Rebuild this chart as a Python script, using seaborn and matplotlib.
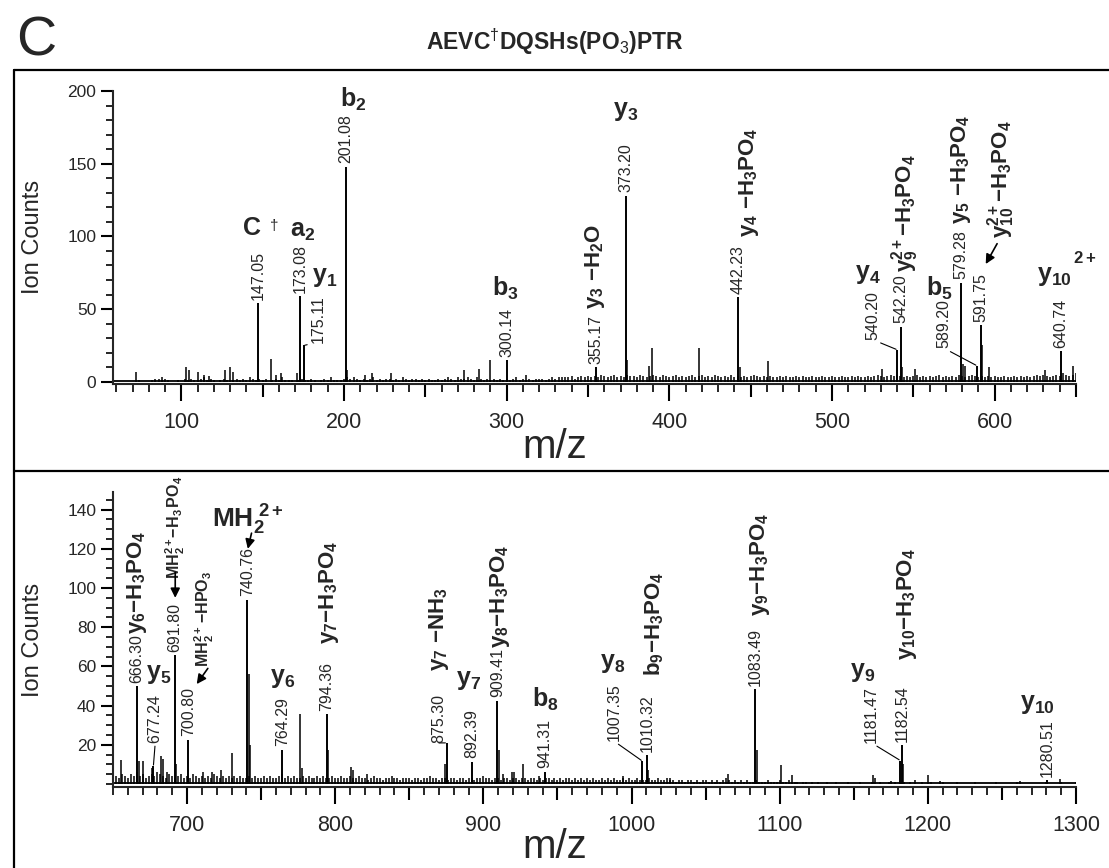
import matplotlib
matplotlib.use('Agg')
import matplotlib.pyplot as plt
import matplotlib.ticker as mticker
from matplotlib.lines import Line2D
import seaborn as sns
import numpy as np

# ---------------- data: top panel (m/z 58-650) ----------------
top_label_mz = [147.05, 173.08, 175.11, 201.08, 300.14, 355.17, 373.20, 442.23,
                540.20, 542.20, 579.28, 589.20, 591.75, 640.74]
top_label_int = [54, 59, 25, 148, 15, 10, 128, 58, 22, 38, 68, 11, 39, 21]

top_minor_mz = [72, 84, 88, 103, 105, 110, 114, 117, 127, 130, 132, 155, 158, 161,
                171, 202, 213, 217, 229, 274, 283, 290, 312, 374.2, 387.5, 389.5,
                418.5, 443.2, 460.5, 531, 543.2, 551, 580.3, 581.5, 592.5, 596.5,
                631, 648]
top_minor_int = [7, 2, 3, 10, 8, 7, 5, 4, 8, 10, 7, 16, 5, 6, 6, 8, 5, 6, 6, 8, 9,
                 15, 5, 15, 11, 23, 23, 10, 14, 9, 10, 9, 12, 11, 25, 10, 8, 11]

# baseline grass, one value every 2 m/z from 58
top_noise_start = 58
top_noise = [
    0, 0, 0, 0, 0, 0, 0, 0, 1, 0, 0, 0, 1, 1, 2, 1, 2, 1, 0, 0,
    1, 0, 2, 1, 2, 1, 1, 2, 3, 1, 2, 1, 0, 1, 2, 1, 0, 1, 2, 1,
    2, 1, 3, 2, 1, 2, 1, 2, 0, 1, 2, 1, 3, 1, 1, 1, 0, 1, 2, 1,
    1, 2, 1, 0, 1, 2, 1, 3, 1, 1, 1, 2, 3, 2, 3, 2, 1, 2, 1, 2,
    3, 1, 2, 1, 2, 2, 1, 2, 1, 3, 2, 1, 2, 2, 1, 2, 1, 2, 1, 1,
    2, 1, 2, 3, 2, 1, 3, 2, 2, 3, 2, 1, 3, 2, 1, 2, 1, 2, 1, 2,
    1, 2, 1, 2, 3, 1, 2, 1, 2, 1, 2, 2, 2, 1, 2, 3, 2, 3, 3, 3,
    3, 4, 2, 3, 4, 3, 4, 3, 4, 3, 5, 4, 3, 4, 5, 3, 4, 3, 5, 4,
    4, 3, 5, 4, 3, 4, 5, 4, 3, 5, 4, 3, 4, 5, 3, 4, 3, 4, 5, 3,
    4, 5, 3, 4, 3, 5, 4, 3, 4, 3, 5, 3, 4, 3, 4, 3, 4, 5, 4, 3,
    4, 3, 4, 3, 3, 4, 3, 4, 3, 3, 4, 3, 4, 3, 3, 4, 3, 3, 4, 3,
    3, 4, 3, 3, 4, 3, 3, 4, 3, 4, 3, 3, 4, 3, 4, 5, 4, 3, 4, 5,
    4, 5, 4, 3, 4, 3, 4, 5, 3, 4, 3, 4, 3, 4, 5, 3, 4, 3, 4, 3,
    5, 4, 3, 4, 5, 4, 3, 4, 3, 4, 3, 4, 3, 3, 4, 3, 3, 4, 3, 4,
    3, 4, 3, 4, 5, 4, 5, 4, 3, 4, 5, 4, 6, 5, 4, 5, 6]

# ---------------- data: bottom panel (m/z 650-1300) ----------------
bot_label_mz = [666.30, 677.24, 691.80, 700.80, 740.76, 764.29, 794.36, 875.30,
                892.39, 909.41, 941.31, 1007.35, 1010.32, 1083.49, 1181.47,
                1182.54, 1280.51]
bot_label_int = [50, 9, 65.6, 22.6, 94, 17.4, 35.5, 21, 11.5, 42.4, 6.4, 11.7,
                 14.6, 48.5, 12, 19.8, 2]

bot_minor_mz = [655.5, 667.5, 670, 676, 682.5, 683.5, 686.5, 692.5, 711, 717, 723,
                730.5, 741.5, 742.5, 776.5, 777.5, 795.4, 810.8, 812, 821.7, 874.3,
                910.4, 913, 919, 921, 926.5, 937.3, 994, 1011.3, 1025.7, 1065.4,
                1084.4, 1101.2, 1108.3, 1163, 1164.5, 1175, 1183.4, 1191, 1200,
                1208, 1262, 1289]
bot_minor_int = [12.5, 12, 12, 8, 14.5, 13, 6, 10, 6, 6, 7, 16, 56, 20, 35.7, 8,
                 17.6, 8.6, 7, 5, 10, 17.6, 5, 6, 6, 10, 4, 4, 7, 3, 5, 17.5, 9.5,
                 4.5, 4.6, 3, 1.5, 10, 2, 4.5, 1.5, 1.5, 2.5]

bot_noise_start = 650
bot_noise = [
    3, 4, 3, 5, 4, 3, 5, 4, 6, 4, 5, 3, 4, 5, 4, 6, 5, 4, 3, 5,
    4, 3, 4, 5, 3, 4, 3, 5, 4, 3, 4, 3, 4, 3, 5, 4, 3, 4, 3, 4,
    3, 4, 3, 4, 3, 3, 4, 3, 4, 3, 3, 4, 3, 4, 3, 3, 4, 5, 3, 4,
    3, 4, 3, 3, 4, 3, 4, 3, 3, 4, 3, 4, 3, 3, 4, 3, 3, 4, 3, 3,
    4, 3, 3, 4, 3, 3, 2, 3, 4, 3, 3, 2, 3, 3, 4, 3, 3, 2, 3, 3,
    3, 2, 3, 3, 2, 3, 3, 4, 3, 3, 2, 3, 3, 2, 3, 3, 2, 3, 3, 2,
    3, 3, 2, 3, 3, 4, 3, 3, 2, 3, 3, 2, 3, 3, 2, 3, 3, 2, 3, 3,
    2, 3, 3, 2, 3, 2, 3, 3, 2, 3, 2, 3, 2, 3, 3, 2, 3, 2, 3, 2,
    3, 2, 3, 2, 2, 3, 2, 3, 2, 3, 2, 2, 3, 2, 3, 2, 2, 3, 2, 2,
    2, 3, 2, 2, 3, 2, 2, 3, 2, 2, 1, 2, 2, 1, 2, 2, 1, 2, 1, 2,
    2, 1, 2, 1, 2, 1, 2, 3, 2, 1, 2, 1, 2, 1, 2, 1, 1, 2, 1, 1,
    1, 2, 1, 1, 1, 2, 1, 1, 2, 1, 1, 1, 0, 1, 1, 0, 1, 0, 1, 0,
    0, 1, 0, 0, 1, 0, 0, 0, 1, 0, 0, 0, 1, 0, 0, 0, 1, 0, 0, 1,
    0, 0, 1, 0, 1, 0, 0, 1, 0, 1, 0, 0, 0, 1, 0, 0, 1, 0, 0, 0,
    1, 0, 0, 0, 0, 1, 0, 0, 0, 0, 0, 1, 0, 0, 0, 0, 0, 0, 1, 0,
    0, 0, 0, 0, 0, 1, 0, 0, 0, 0, 0, 0, 0, 0, 0, 1, 0, 0, 0, 0,
    1, 0, 0, 0, 0, 1]

# ion labels: text, x, y (data), rotation, font size
top_ions = [
    (r'$\mathbf{C}$', 143, 106, 0, 18),
    (r'$\dagger$', 157, 108, 0, 11),
    (r'$\mathbf{a_2}$', 174.5, 104, 0, 18),
    (r'$\mathbf{y_1}$', 188, 72, 0, 18),
    (r'$\mathbf{b_2}$', 205.5, 194, 0, 18),
    (r'$\mathbf{b_3}$', 299, 64, 0, 18),
    (r'$\mathbf{y_3\ {-}H_2O}$', 354, 79, 90, 16),
    (r'$\mathbf{y_3}$', 373, 186, 0, 18),
    (r'$\mathbf{y_4\ {-}H_3PO_4}$', 449, 137, 90, 16),
    (r'$\mathbf{y_4}$', 522, 74, 0, 18),
    (r'$\mathbf{y_9^{2+}{-}H_3PO_4}$', 545, 116, 90, 16),
    (r'$\mathbf{b_5}$', 566, 64, 0, 18),
    (r'$\mathbf{y_5\ {-}H_3PO_4}$', 579, 146, 90, 16),
    (r'$\mathbf{y_{10}^{2+}{-}H_3PO_4}$', 604, 139, 90, 16),
    (r'$\mathbf{y_{10}}$', 637, 73, 0, 18),
    (r'$\mathbf{2+}$', 655, 85, 0, 12),
]
bot_ions = [
    (r'$\mathbf{y_6{-}H_3PO_4}$', 666.5, 103, 90, 16),
    (r'$\mathbf{y_5}$', 681, 56, 0, 18),
    (r'$\mathbf{MH_2^{2+}{-}H_3\,PO_4}$', 692, 131, 90, 11.5),
    (r'$\mathbf{MH_2^{2+}\,{-}HPO_3}$', 712, 84, 90, 11.5),
    (r'$\mathbf{MH_2^{\ 2+}}$', 741, 135, 0, 19),
    (r'$\mathbf{y_6}$', 764.5, 54, 0, 18),
    (r'$\mathbf{y_7{-}H_3PO_4}$', 796, 98, 90, 16),
    (r'$\mathbf{y_7\ {-}NH_3}$', 870, 79, 90, 16),
    (r'$\mathbf{y_7}$', 890, 53, 0, 18),
    (r'$\mathbf{y_8{-}H_3PO_4}$', 911, 96, 90, 16),
    (r'$\mathbf{b_8}$', 942, 43, 0, 18),
    (r'$\mathbf{y_8}$', 987, 62, 0, 18),
    (r'$\mathbf{b_9{-}H_3PO_4}$', 1015, 82, 90, 16),
    (r'$\mathbf{y_9{-}H_3PO_4}$', 1087, 112, 90, 16),
    (r'$\mathbf{y_9}$', 1156, 57, 0, 18),
    (r'$\mathbf{y_{10}{-}H_3PO_4}$', 1186, 92, 90, 16),
    (r'$\mathbf{y_{10}}$', 1274, 41, 0, 18),
]

# number labels moved away from their peak (text bottom position, data coords)
top_leaders = {175.11: (184, 27), 540.20: (525, 29), 589.20: (569, 23)}
bot_leaders = {677.24: (678.5, 21), 875.30: (870, 21), 1007.35: (988, 22),
               1181.47: (1162, 21)}

# arrows: (from, to) in data coords
top_arrows = [((601.5, 95), (594.5, 81))]
bot_arrows = [((692, 108), (692, 95)), ((714, 59), (706.5, 51)),
              ((743.5, 128), (741, 120))]

sns.set_theme(style='ticks')
plt.rcParams['font.family'] = ['Liberation Sans', 'DejaVu Sans']
plt.rcParams['mathtext.fontset'] = 'custom'
plt.rcParams['mathtext.rm'] = 'Liberation Sans'
plt.rcParams['mathtext.bf'] = 'Liberation Sans:bold'
plt.rcParams['mathtext.it'] = 'Liberation Sans:italic'
plt.rcParams['axes.linewidth'] = 1.5

W, H = 1109, 868
fig = plt.figure(figsize=(W / 100, H / 100), dpi=100)
ax_top = fig.add_axes([113 / W, 1 - 384 / H, 963 / W, 293 / H])
ax_bot = fig.add_axes([113 / W, 1 - 787 / H, 963 / W, 295 / H])


def draw_panel(ax, noise_start, noise, minor_mz, minor_int, lab_mz, lab_int,
               ions, leaders, arrows, xlim, ylim):
    nx = noise_start + 2 * np.arange(len(noise))
    ax.vlines(nx, 0, noise, color='black', lw=1.1)
    ax.vlines(minor_mz, 0, minor_int, color='black', lw=1.1)
    ax.vlines(lab_mz, 0, lab_int, color='black', lw=1.4)
    ax.hlines(0.3, xlim[0], xlim[1], color='black', lw=1.3)
    for mz, h in zip(lab_mz, lab_int):
        txt = f'{mz:.2f}'
        if mz in leaders:
            ax.annotate(txt, xy=(mz, h), xytext=leaders[mz], rotation=90,
                        ha='center', va='bottom', fontsize=11.5,
                        arrowprops=dict(arrowstyle='-', lw=0.8, color='black',
                                        shrinkA=0, shrinkB=1, relpos=(0.5, 0)),
                        annotation_clip=False)
        else:
            ax.annotate(txt, xy=(mz, h), xytext=(0, 2.5), textcoords='offset points',
                        rotation=90, ha='center', va='bottom', fontsize=11.5,
                        annotation_clip=False)
    for txt, x, y, rot, size in ions:
        ax.text(x, y, txt, rotation=rot, ha='center', va='center', fontsize=size,
                clip_on=False)
    for a, b in arrows:
        ax.annotate('', xy=b, xytext=a,
                    arrowprops=dict(arrowstyle='-|>', lw=1.2, color='black',
                                    mutation_scale=14, shrinkA=0, shrinkB=0))
    ax.set_xlim(*xlim)
    ax.set_ylim(*ylim)
    sns.despine(ax=ax)
    ax.set_xlabel('')
    ax.set_ylabel('')
    ax.tick_params(axis='x', which='major', length=12, width=1.5, pad=8,
                   labelsize=15.5, color='black')
    ax.tick_params(axis='x', which='minor', length=6, width=1.2, color='black')
    ax.tick_params(axis='y', which='major', length=9, width=1.5, pad=3,
                   labelsize=12.5, color='black')
    ax.tick_params(axis='y', which='minor', length=5, width=1.2, color='black')
    ax.xaxis.set_minor_locator(mticker.MultipleLocator(10))
    ax.xaxis.set_major_locator(mticker.MultipleLocator(100))
    sec = ax.secondary_xaxis('bottom')
    mids = np.arange(np.ceil(xlim[0] / 100) * 100 - 50, xlim[1] + 1, 100)
    sec.set_xticks(mids[(mids > xlim[0]) & (mids <= xlim[1])])
    sec.tick_params(length=9, width=1.5, labelbottom=False, color='black')
    sec.spines['bottom'].set_visible(False)
    ax.set_facecolor('white')


draw_panel(ax_top, top_noise_start, top_noise, top_minor_mz, top_minor_int,
           top_label_mz, top_label_int, top_ions, top_leaders, top_arrows,
           (58, 650), (-1.5, 200))
ax_top.yaxis.set_major_locator(mticker.MultipleLocator(50))
ax_top.yaxis.set_minor_locator(mticker.MultipleLocator(10))

draw_panel(ax_bot, bot_noise_start, bot_noise, bot_minor_mz, bot_minor_int,
           bot_label_mz, bot_label_int, bot_ions, bot_leaders, bot_arrows,
           (650, 1300), (-1.5, 149))
ax_bot.set_yticks([20, 40, 60, 80, 100, 120, 140])
ax_bot.yaxis.set_minor_locator(mticker.MultipleLocator(5))

# axis titles and headings
fig.text(0.5, 1 - 447 / H, 'm/z', ha='center', va='center', fontsize=29)
fig.text(0.5, 1 - 847 / H, 'm/z', ha='center', va='center', fontsize=29)
fig.text(33 / W, 1 - 237 / H, 'Ion Counts', rotation=90, ha='center', va='center',
         fontsize=17)
fig.text(33 / W, 1 - 640 / H, 'Ion Counts', rotation=90, ha='center', va='center',
         fontsize=17)
fig.text(36 / W, 1 - 42 / H, 'C', ha='center', va='center', fontsize=40)
fig.text(0.5, 1 - 42 / H, 'AEVC$^{\u2020}$DQSHs(PO$_3$)PTR', ha='center',
         va='center', fontsize=16.5, fontweight='bold')

# frame around the panels
for xs, ys in [([14 / W, 1], [1 - 70 / H] * 2), ([14 / W, 1], [1 - 471 / H] * 2),
               ([14 / W] * 2, [1 - 70 / H, 0])]:
    fig.add_artist(Line2D(xs, ys, transform=fig.transFigure, color='black', lw=1.6))

fig.savefig('out.png', dpi=100, facecolor='white')
